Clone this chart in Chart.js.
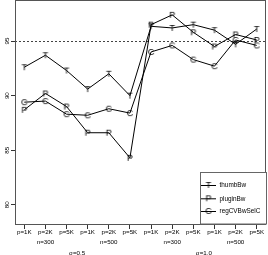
<!DOCTYPE html>
<html>
<head>
<meta charset="utf-8">
<script src="https://cdn.jsdelivr.net/npm/chart.js@4"></script>
<style>
  html, body { margin: 0; padding: 0; background: #fff; }
</style>
</head>
<body>
<canvas id="chart" width="268" height="255"></canvas>
<script>
// tick labels along the x axis, one entry per configuration
const xLabels = [
    ['p=1K'], ['p=2K', 'n=300'], ['p=5K'],
    ['p=1K'], ['p=2K', 'n=500'], ['p=5K'],
    ['p=1K'], ['p=2K', 'n=300'], ['p=5K'],
    ['p=1K'], ['p=2K', 'n=500'], ['p=5K']
];
const sigmaLabels = ['σ=0.5', 'σ=1.0'];
const sigmaPos = [3.5, 9.5];
const yTicks = [80, 85, 90, 95];
const refLine = 95;

const seriesNames = ['thumbBw', 'pluginBw', 'regCVBwSelC'];
const seriesPch = ['T', 'P', 'C'];
const thumbBw = [92.6, 93.7, 92.3, 90.6, 92.0, 90.0, 96.35, 96.2, 96.5, 96.0, 94.7, 96.1];
const pluginBw = [88.7, 90.2, 89.0, 86.6, 86.6, 84.3, 96.5, 97.4, 95.8, 94.5, 95.6, 95.1];
const regCVBwSelC = [89.4, 89.5, 88.3, 88.2, 88.8, 88.4, 94.0, 94.6, 93.3, 92.7, 95.1, 94.6];

const FONT = '"Liberation Sans", Arial, Helvetica, sans-serif';

// letter markers like R's pch = "T"
const mkPch = (ch) => {
    const c = document.createElement('canvas');
    c.width = 12; c.height = 12;
    const g = c.getContext('2d');
    g.font = '9px ' + FONT;
    g.textAlign = 'center';
    g.textBaseline = 'alphabetic';
    g.fillStyle = '#000';
    g.fillText(ch, 6, 9.2);
    return c;
};

const allSeries = [thumbBw, pluginBw, regCVBwSelC];
const datasets = allSeries.map((vals, i) => ({
    label: seriesNames[i],
    data: vals.map((v, j) => ({ x: j + 1, y: v })),
    borderColor: '#000',
    borderWidth: 1,
    pointStyle: mkPch(seriesPch[i]),
    pointRadius: 5,
    fill: false,
    tension: 0
}));

const xTickValues = [];
for (let i = 1; i <= xLabels.length; i++) {
    xTickValues.push(i);
    if (sigmaPos.includes(i + 0.5)) xTickValues.push(i + 0.5);
}

const rDecor = {
    id: 'rDecor',
    beforeDatasetsDraw(chart) {
        const { ctx, chartArea: a, scales: { y } } = chart;
        const py = Math.round(y.getPixelForValue(refLine)) + 0.5;
        ctx.save();
        ctx.strokeStyle = '#444';
        ctx.lineWidth = 1;
        ctx.setLineDash([2, 2]);
        ctx.beginPath();
        ctx.moveTo(a.left, py);
        ctx.lineTo(a.right, py);
        ctx.stroke();
        ctx.restore();
    },
    afterDraw(chart) {
        const { ctx, chartArea: a, scales: { y } } = chart;
        ctx.save();
        // box
        ctx.strokeStyle = '#555';
        ctx.lineWidth = 1;
        ctx.strokeRect(Math.round(a.left) + 0.5, Math.round(a.top) + 0.5,
            Math.round(a.right - a.left) - 1, Math.round(a.bottom - a.top));

        // y labels, rotated like R's default las = 0
        ctx.fillStyle = '#000';
        ctx.font = '6.2px ' + FONT;
        ctx.textAlign = 'center';
        ctx.textBaseline = 'middle';
        yTicks.forEach(v => {
            ctx.save();
            ctx.translate(7.5, y.getPixelForValue(v));
            ctx.rotate(-Math.PI / 2);
            ctx.fillText(String(v), 0, 0);
            ctx.restore();
        });

        // legend
        const lx = 200.5, ly = 172.5, lw = 66, lh = Math.round(a.bottom) - 172.5;
        ctx.fillStyle = '#fff';
        ctx.fillRect(lx, ly, lw, lh);
        ctx.strokeStyle = '#666';
        ctx.strokeRect(lx, ly, lw, lh);
        const rows = [185, 198.3, 211];
        chart.data.datasets.forEach((ds, i) => {
            const ry = rows[i];
            ctx.strokeStyle = '#000';
            ctx.beginPath();
            ctx.moveTo(201, ry + 0.5);
            ctx.lineTo(216, ry + 0.5);
            ctx.stroke();
            ctx.drawImage(ds.pointStyle, 208.5 - 6, ry - 6);
            ctx.fillStyle = '#000';
            ctx.font = '6.4px ' + FONT;
            ctx.textAlign = 'left';
            ctx.textBaseline = 'middle';
            ctx.fillText(ds.label, 219.5, ry + 0.5);
        });
        ctx.restore();
    }
};

new Chart(document.getElementById('chart'), {
    type: 'line',
    data: { datasets },
    options: {
        responsive: false,
        animation: false,
        devicePixelRatio: 1,
        layout: { autoPadding: false, padding: { top: 0, right: 2, left: 0, bottom: 0 } },
        plugins: { legend: { display: false }, tooltip: { enabled: false } },
        scales: {
            x: {
                type: 'linear',
                min: 0.56,
                max: 12.44,
                afterBuildTicks: s => { s.ticks = xTickValues.map(v => ({ value: v })); },
                afterFit: s => { s.height = 31; },
                ticks: {
                    autoSkip: false,
                    minRotation: 0,
                    maxRotation: 0,
                    padding: -2,
                    color: '#000',
                    font: { family: FONT, size: 6.2, lineHeight: '10.5px' },
                    callback: (v) => {
                        const k = sigmaPos.indexOf(v);
                        if (k >= 0) return ['', '', sigmaLabels[k]];
                        return xLabels[v - 1] || '';
                    }
                },
                grid: {
                    drawOnChartArea: false,
                    tickLength: 5,
                    tickColor: c => (c.tick && c.tick.value % 1 !== 0) ? 'rgba(0,0,0,0)' : '#333'
                },
                border: { display: false }
            },
            y: {
                min: 78.24,
                max: 98.76,
                afterBuildTicks: s => { s.ticks = yTicks.map(v => ({ value: v })); },
                afterFit: s => { s.width = 15; },
                ticks: { display: false },
                grid: { drawOnChartArea: false, tickLength: 4, tickColor: '#333' },
                border: { display: false }
            }
        }
    },
    plugins: [rDecor]
});
</script>
</body>
</html>
